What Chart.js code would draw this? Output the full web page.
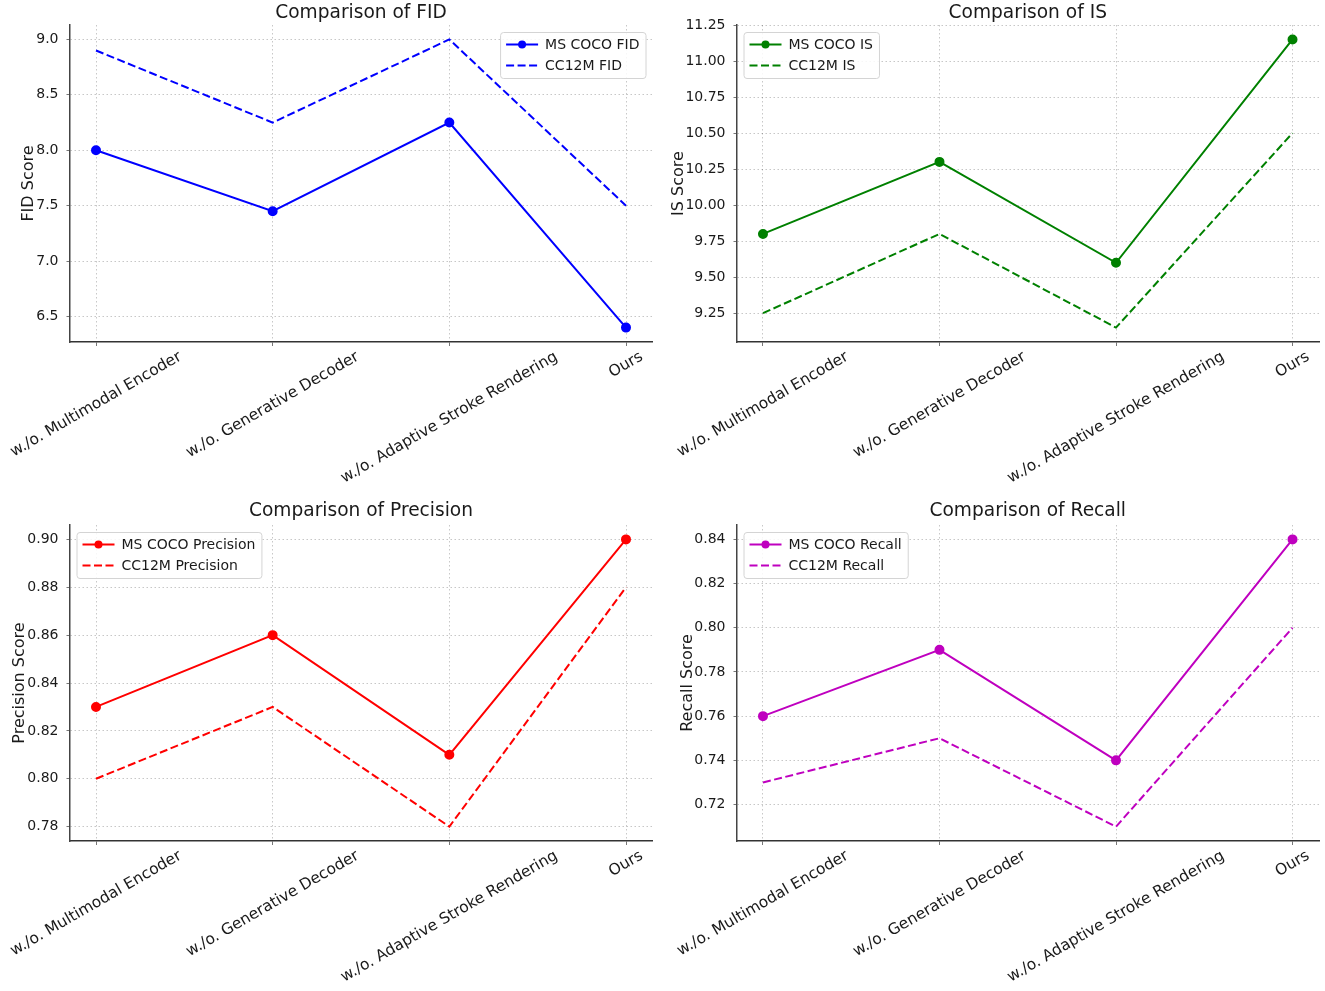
<!DOCTYPE html>
<html>
<head>
<meta charset="utf-8">
<script src="https://cdn.jsdelivr.net/npm/chart.js@4.4.1/dist/chart.umd.min.js"></script>
<style>
  html, body { margin:0; padding:0; background:#fff; }
  .cell { position:absolute; }
</style>
</head>
<body>
<div class="cell" style="left:0;top:0"><canvas id="fid" width="662" height="495"></canvas></div>
<div class="cell" style="left:662px;top:0"><canvas id="is" width="663" height="495"></canvas></div>
<div class="cell" style="left:0;top:495px"><canvas id="prec" width="662" height="496"></canvas></div>
<div class="cell" style="left:662px;top:495px"><canvas id="rec" width="663" height="496"></canvas></div>
<script>
// ── data ─────────────────────────────────────────────────────────────
const categories = ["w./o. Multimodal Encoder", "w./o. Generative Decoder", "w./o. Adaptive Stroke Rendering", "Ours"];

const fidCoco  = [8.0, 7.45, 8.25, 6.4];
const fidCC12M = [8.9, 8.25, 9.0, 7.5];
const isCoco   = [9.8, 10.3, 9.6, 11.15];
const isCC12M  = [9.25, 9.8, 9.15, 10.5];
const precCoco  = [0.83, 0.86, 0.81, 0.90];
const precCC12M = [0.80, 0.83, 0.78, 0.88];
const recCoco   = [0.76, 0.79, 0.74, 0.84];
const recCC12M  = [0.73, 0.75, 0.71, 0.80];

const fidTicks  = [6.5, 7.0, 7.5, 8.0, 8.5, 9.0];
const isTicks   = [9.25, 9.5, 9.75, 10.0, 10.25, 10.5, 10.75, 11.0, 11.25];
const precTicks = [0.78, 0.80, 0.82, 0.84, 0.86, 0.88, 0.90];
const recTicks  = [0.72, 0.74, 0.76, 0.78, 0.80, 0.82, 0.84];

// ── style ────────────────────────────────────────────────────────────
const FAMILY = "'DejaVu Sans', Verdana, sans-serif";
const INK    = "#1a1a1a";
const GRID   = "rgba(0,0,0,0.22)";
const ROT    = 30;

Chart.defaults.font.family = FAMILY;
Chart.defaults.color = INK;

// rotated x labels, centred under each tick (matplotlib style)
const xLabels = {
  id: "xLabels",
  afterDraw(chart) {
    const { ctx, chartArea, scales:{ x } } = chart;
    const a = ROT * Math.PI / 180, size = 15.5, h = size * 1.15;
    ctx.save();
    ctx.font = `${size}px ${FAMILY}`;
    ctx.fillStyle = INK;
    ctx.textAlign = "center";
    ctx.textBaseline = "middle";
    categories.forEach((lab, i) => {
      const w  = ctx.measureText(lab).width;
      const bh = w * Math.sin(a) + h * Math.cos(a);
      ctx.save();
      ctx.translate(x.getPixelForValue(i), chartArea.bottom + 6 + bh / 2);
      ctx.rotate(-a);
      ctx.fillText(lab, 0, 0);
      ctx.restore();
    });
    ctx.restore();
  },
};

// framed legend inside the axes
const boxLegend = {
  id: "boxLegend",
  afterDatasetsDraw(chart, args, opts) {
    const { ctx, chartArea:ca } = chart;
    const sets = chart.data.datasets;
    ctx.save();
    ctx.font = `14px ${FAMILY}`;
    const tw = Math.max(...sets.map(d => ctx.measureText(d.label).width));
    const W = 6 + 32 + 7 + tw + 6, H = 46;
    const left = opts.corner === "right" ? ca.right - 7 - W : ca.left + 7;
    const top  = ca.top + 7;
    ctx.beginPath();
    ctx.roundRect(left + 0.5, top + 0.5, W, H, 3);
    ctx.fillStyle = "rgba(255,255,255,0.85)";
    ctx.fill();
    ctx.strokeStyle = "#d4d4d4";
    ctx.lineWidth = 1;
    ctx.stroke();
    sets.forEach((d, i) => {
      const y = top + 12.5 + i * 21;
      ctx.beginPath();
      ctx.setLineDash(d.borderDash || []);
      ctx.strokeStyle = d.borderColor;
      ctx.lineWidth = d.borderWidth;
      ctx.moveTo(left + 6, y);
      ctx.lineTo(left + 38, y);
      ctx.stroke();
      ctx.setLineDash([]);
      if (d.pointRadius) {
        ctx.beginPath();
        ctx.arc(left + 22, y, d.pointRadius, 0, Math.PI * 2);
        ctx.fillStyle = d.borderColor;
        ctx.fill();
      }
      ctx.fillStyle = INK;
      ctx.textBaseline = "middle";
      ctx.fillText(d.label, left + 45, y + 1);
    });
    ctx.restore();
  },
};

function lineChart(id, cfg) {
  const el = document.getElementById(id); if (!el) return null;
  const all = cfg.series.flatMap(s => s.data);
  const lo = Math.min(...all), hi = Math.max(...all), m = (hi - lo) * 0.05;
  const L = cfg.box;
  return new Chart(el.getContext("2d"), {
    type: "line",
    data: {
      datasets: cfg.series.map(s => ({
        label: s.label,
        data: s.data.map((v, i) => ({ x:i, y:v })),
        borderColor: cfg.color,
        backgroundColor: cfg.color,
        borderWidth: 2,
        borderDash: s.dashed ? [8, 3.5] : [],
        pointRadius: s.dashed ? 0 : 4,
        pointHoverRadius: s.dashed ? 0 : 4,
        tension: 0, fill: false,
      })),
    },
    options: {
      responsive:false, animation:false,
      layout:{ padding:{ left:0, top:0, bottom:0, right:L.padRight } },
      plugins:{
        legend:{ display:false }, tooltip:{ enabled:false },
        title:{ display:true, text:cfg.title, color:INK, fullSize:false,
                font:{ size:18.6, weight:"normal", family:FAMILY, lineHeight:1.2 },
                padding:{ top:L.titleTop, bottom:L.titleBottom } },
        boxLegend:{ corner:cfg.legendCorner },
      },
      scales:{
        x:{
          type:"linear", min:-0.15, max:3.15,
          afterBuildTicks: s => { s.ticks = categories.map((c, i) => ({ value:i })); },
          afterFit: s => { s.height = L.xHeight; },
          ticks:{ display:false },
          grid:{ color:GRID, lineWidth:1, tickLength:4, tickColor:"#777", tickWidth:1 },
          border:{ color:"#333", width:1.5, dash:[1.5, 2.5] },
        },
        y:{
          min:lo - m, max:hi + m,
          afterBuildTicks: s => { s.ticks = cfg.ticks.map(v => ({ value:v })); },
          afterFit: s => { s.width = L.yWidth; },
          ticks:{ font:{ size:14, family:FAMILY }, color:INK, padding:8,
                  callback: v => v.toFixed(cfg.decimals) },
          grid:{ color:GRID, lineWidth:1, tickLength:3, tickColor:"#777", tickWidth:1 },
          border:{ color:"#444", width:1.5, dash:[1.5, 2.5] },
          title:{ display:true, text:cfg.yTitle, color:INK,
                  font:{ size:16, family:FAMILY, lineHeight:1.2 },
                  padding:{ top:L.yTitlePad, bottom:0 } },
        },
      },
    },
    plugins:[xLabels, boxLegend],
  });
}

lineChart("fid", {
  title:"Comparison of FID", yTitle:"FID Score", color:"#0000ff", decimals:1, ticks:fidTicks,
  legendCorner:"right",
  series:[ { label:"MS COCO FID", data:fidCoco }, { label:"CC12M FID", data:fidCC12M, dashed:true } ],
  box:{ padRight:9.5, titleTop:2.0, titleBottom:0.7, xHeight:153, yWidth:69.5, yTitlePad:19 },
});
lineChart("is", {
  title:"Comparison of IS", yTitle:"IS Score", color:"#008000", decimals:2, ticks:isTicks,
  legendCorner:"left",
  series:[ { label:"MS COCO IS", data:isCoco }, { label:"CC12M IS", data:isCC12M, dashed:true } ],
  box:{ padRight:5.5, titleTop:2.0, titleBottom:0.7, xHeight:153, yWidth:74.5, yTitlePad:7.5 },
});
lineChart("prec", {
  title:"Comparison of Precision", yTitle:"Precision Score", color:"#ff0000", decimals:2, ticks:precTicks,
  legendCorner:"left",
  series:[ { label:"MS COCO Precision", data:precCoco }, { label:"CC12M Precision", data:precCC12M, dashed:true } ],
  box:{ padRight:9.5, titleTop:5.5, titleBottom:2.2, xHeight:150, yWidth:69.5, yTitlePad:10.5 },
});
lineChart("rec", {
  title:"Comparison of Recall", yTitle:"Recall Score", color:"#bf00bf", decimals:2, ticks:recTicks,
  legendCorner:"left",
  series:[ { label:"MS COCO Recall", data:recCoco }, { label:"CC12M Recall", data:recCC12M, dashed:true } ],
  box:{ padRight:5.5, titleTop:5.5, titleBottom:2.2, xHeight:150, yWidth:74.5, yTitlePad:16 },
});
</script>
</body>
</html>
